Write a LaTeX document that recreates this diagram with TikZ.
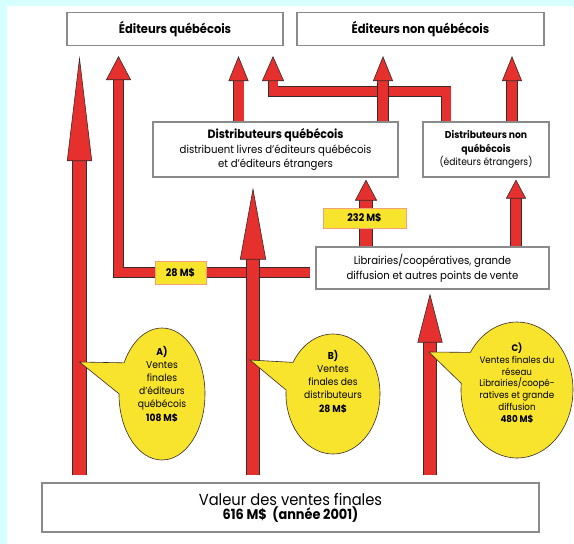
\documentclass[tikz,border=0pt]{standalone}
\usepackage{fontspec}
\setmainfont{Poppins}[FakeStretch=0.92]
\usetikzlibrary{arrows.meta,shapes.callouts}

\definecolor{flowred}{HTML}{E5302E}
\definecolor{flowline}{HTML}{3A2A2A}
\definecolor{bubble}{HTML}{F8E42C}
\definecolor{tagline}{HTML}{F2A07A}
\definecolor{boxline}{HTML}{8A8A8A}
\definecolor{bgcyan}{HTML}{D6FFFF}

\tikzset{
  box/.style={draw=boxline, line width=1.1pt, fill=white, inner sep=0pt, align=center},
  tag/.style={draw=tagline, line width=1pt, fill=bubble, inner sep=0pt,
    font=\bfseries\fontsize{10.5}{12}\selectfont},
  bulle/.style={ellipse callout, draw=flowline, line width=0.6pt, fill=bubble,
    inner sep=0pt, callout pointer arc=28},
  bubtext/.style={align=center, inner sep=0pt, font=\fontsize{10}{13.2}\selectfont},
  flow/.style n args={3}{draw=flowred, line width=#1pt, line join=miter,
    -{Triangle[length=#3pt, width=#2pt, line width'=0.6pt, fill=flowred, color=flowline]},
    preaction={draw=flowline, line width=#1pt+1.2pt, arrows=-, shorten >=#3pt-1pt}},
}

\begin{document}
\begin{tikzpicture}[x=1pt, y=-1pt]
    \useasboundingbox (0,0) rectangle (574,544);
    \fill[bgcyan] (0,0) rectangle (574,544);
    \fill[white] (7,6) rectangle (574,544);

    % publishers, distributors, shops
    \node[box, minimum width=216pt, minimum height=33pt] (eq) at (175,29)
        {\bfseries\fontsize{12.5}{14}\selectfont Éditeurs québécois};
    \node[box, minimum width=247pt, minimum height=33pt] (enq) at (420.5,29)
        {\bfseries\fontsize{12.5}{14}\selectfont Éditeurs non québécois};
    \node[box, minimum width=245pt, minimum height=55pt,
          font=\fontsize{11}{14.5}\selectfont] (dq) at (275.5,149.5)
        {{\bfseries\fontsize{12}{14.5}\selectfont Distributeurs québécois}\\distribuent livres d’éditeurs québécois\\et d’éditeurs étrangers};
    \node[box, minimum width=126pt, minimum height=55pt,
          font=\fontsize{10}{13.5}\selectfont] (dnq) at (486,149.5)
        {\textbf{Distributeurs non}\\\textbf{québécois}\\(éditeurs étrangers)};
    \node[box, minimum width=233pt, minimum height=42pt,
          font=\fontsize{11}{15}\selectfont] (lib) at (432.5,268)
        {Librairies/coopératives, grande\\diffusion et autres points de vente};
    \node[box, minimum width=497pt, minimum height=49pt] (val) at (290.5,507.5)
        {\fontsize{16}{20}\selectfont Valeur des ventes finales\\
         {\bfseries\fontsize{14}{20}\selectfont 616 M\$\ \ (année 2001)}};

    \coordinate (eqin) at ([yshift=-10pt]eq.south);
    \coordinate (enqin) at ([yshift=-10pt]enq.south);
    \coordinate (dqin) at ([yshift=-2pt]dq.south);
    \coordinate (dqlow) at ([yshift=-10pt]dq.south);
    \coordinate (dnqin) at ([yshift=-2pt]dnq.south);
    \coordinate (libin) at ([yshift=-4pt]lib.south);
    \coordinate (libout) at ([xshift=-5pt]lib.west);
    \coordinate (valout) at ([yshift=7pt]val.north);

    % money flows
    \draw[flow={9}{25}{24}] (libout |- 0,272.5) -| (eqin -| 118.5,0);
    \draw[flow={13}{25}{105}] (valout -| 79.5,0) -- (eqin -| 79.5,0);
    \draw[flow={12}{26}{72}] (valout -| 253,0) -- (dqlow -| 253,0);
    \draw[flow={12}{25}{49}] (valout -| 430,0) -- (libin -| 430,0);
    \draw[flow={12}{22}{21}] (lib.north -| 366,0) -- (dqin -| 366,0);
    \draw[flow={10}{20}{19}] (lib.north -| 516,0) -- (dnqin -| 516,0);
    \draw[flow={9}{22}{25}] (dnq.north -| 446,0) |- (273,91.5) -- (eqin -| 273,0);
    \draw[flow={10}{20}{25}] (dq.north -| 238.5,0) -- (eqin -| 238.5,0);
    \draw[flow={10}{20}{25}] (dq.north -| 383,0) -- (enqin -| 383,0);
    \draw[flow={10}{20}{25}] (dnq.north -| 512,0) -- (enqin -| 512,0);

    \node[tag, minimum width=51pt, minimum height=23pt] (t28) at (180.5,272.5) {28 M\$};
    \node[tag, minimum width=83pt, minimum height=20pt] (t232) at (364.5,218) {232 M\$};

    % final sales
    \node[bulle, minimum width=86pt, minimum height=132pt,
          callout absolute pointer={(79.5,362)}] (ba) at (162,394) {};
    \node[bubtext] at ([yshift=10pt]ba.center)
        {\textbf{A)}\\Ventes\\finales\\d’éditeurs\\québécois\\\textbf{108 M\$}};
    \node[bulle, minimum width=94pt, minimum height=120pt,
          callout absolute pointer={(250,360)}] (bb) at (333,394) {};
    \node[bubtext] at ([yshift=12.5pt]bb.center)
        {\textbf{B)}\\Ventes\\finales des\\distributeurs\\\textbf{28 M\$}};
    \node[bulle, minimum width=112pt, minimum height=136pt,
          callout absolute pointer={(429,352)}] (bc) at (517,390) {};
    \node[bubtext, font=\fontsize{9.5}{11.7}\selectfont] at ([yshift=7pt]bc.center)
        {\textbf{C)}\\Ventes finales du\\réseau\\Librairies/coopé-\\ratives et grande\\diffusion\\\textbf{480 M\$}};
\end{tikzpicture}
\end{document}
